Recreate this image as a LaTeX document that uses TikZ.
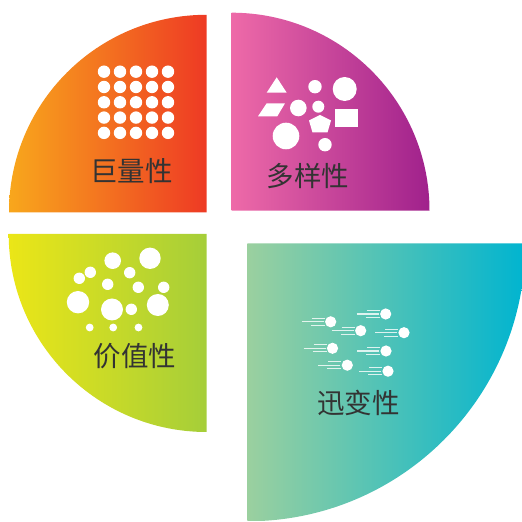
\documentclass[tikz,border=0pt]{standalone}
\usepackage{fontspec}
\newfontfamily\cjk{Noto Sans CJK SC}
\definecolor{tlL}{HTML}{F8A71C}
\definecolor{tlR}{HTML}{EE3A24}
\definecolor{trL}{HTML}{EE6AA8}
\definecolor{trR}{HTML}{A0218C}
\definecolor{blL}{HTML}{EBE617}
\definecolor{blR}{HTML}{A5CE39}
\definecolor{brL}{HTML}{9BD09F}
\definecolor{brR}{HTML}{00B4D0}
\definecolor{txt}{HTML}{333333}
\tikzset{
  lbl/.style={font=\cjk\fontsize{27.5pt}{30pt}\selectfont, text=txt, anchor=base, inner sep=0pt},
  dot/.style={fill=white},
  speed/.style={draw=white, line width=1.1pt, opacity=0.8},
}
\newcommand{\ball}[2]{%
  \draw[speed] (#1-19,#2+3.4) -- (#1-6,#2+3.4);
  \draw[speed] (#1-29,#2) -- (#1-7,#2);
  \draw[speed] (#1-20,#2-3.4) -- (#1-6,#2-3.4);
  \fill[white] (#1,#2) circle[radius=5.6pt];
}
\begin{document}
\begin{tikzpicture}[x=1pt,y=1pt]
\useasboundingbox (0,0) rectangle (522,522);
% quarters
\shade[left color=tlL, right color=tlR] (206.5,309.7) -- ++(-197.5,0) arc[start angle=180,end angle=90,radius=197.5pt] -- cycle;
\shade[left color=trL, right color=trR] (231.5,311.3) -- ++(0,198) arc[start angle=90,end angle=0,radius=198pt] -- cycle;
\shade[left color=blL, right color=blR] (206.7,288) -- ++(-198,0) arc[start angle=180,end angle=270,radius=198pt] -- cycle;
\begin{scope}
\clip (0,1) rectangle (522,522);
\shade[left color=brL, right color=brR] (247.3,278.7) -- ++(278,0) arc[start angle=0,end angle=-90,radius=278pt] -- cycle;
\end{scope}
% TL grid of dots
\foreach \i in {0,...,4}{
  \foreach \j in {0,...,4}{
    \fill[dot] ({104+16*\i},{450.3-15.3*\j}) circle[radius=6.2pt];
  }
}
% TR shapes
\fill[dot] (266.7,429.3) -- (286.7,429.3) -- (276.7,444.7) -- cycle;
\fill[dot] (258,405.7) -- (277.3,405.7) -- (285,418.7) -- (266.7,418.7) -- cycle;
\fill[dot] (315,435.3) circle[radius=6.7pt];
\fill[dot] (344.7,433) circle[radius=12pt];
\fill[dot] (298.3,414) circle[radius=8.3pt];
\fill[dot] (318.3,415.3) circle[radius=6pt];
\fill[dot] (286,386) circle[radius=13.3pt];
\fill[dot] (325,377.3) circle[radius=6.7pt];
\fill[dot] (335,395) rectangle (358,413);
\fill[dot] (320,407) -- (331,401.5) -- (327.5,389.5) -- (312.5,389.5) -- (309,401.5) -- cycle;
% BL bubbles
\foreach \x/\y/\r in {112.7/261.3/8.3, 150/263.7/10.7, 90.3/249.7/5.7, 79.3/243.7/5.7, 129.7/249.3/5.7,
  107.7/237.7/5.7, 138.3/234.7/5.7, 163.7/234.7/5.7, 78/219.8/11.2, 112/212.5/11, 131.3/212.7/5.7,
  157.8/217/11, 89.7/194.5/3.9, 113.2/194.5/3.9, 138.5/194.5/3.9}{
  \fill[dot] (\x,\y) circle[radius=\r pt];
}
% BR speeding balls
\ball{330.7}{200.2}
\ball{360.7}{191.3}
\ball{385.7}{208}
\ball{404}{189.3}
\ball{332.5}{173.7}
\ball{386}{171}
\ball{347.3}{156.8}
\ball{388}{150.8}
% labels
\node[lbl] (l1) at (131.7,340.6) {巨量性};
\node[lbl] (l2) at (308,335) {多样性};
\node[lbl] (l3) at (135,155.5) {价值性};
\node[lbl] (l4) at (358.3,108) {迅变性};
\end{tikzpicture}
\end{document}
